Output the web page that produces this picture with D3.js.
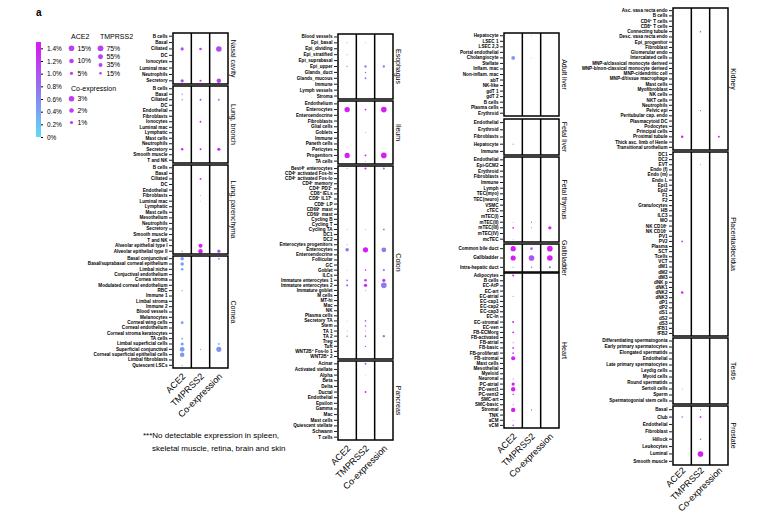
<!DOCTYPE html>
<html>
<head>
<meta charset="utf-8">
<script src="https://cdn.jsdelivr.net/npm/d3@7"></script>
<style>
  body { margin: 0; background: #fff; }
  text { font-family: "Liberation Sans", Arial, sans-serif; }
</style>
</head>
<body>
<svg id="chart" width="774" height="513"></svg>
<script>
// genes shown as the three sub-columns of every panel
const genes = ["ACE2", "TMPRSS2", "Co-expression"];
const levelTicks = [0, 0.2, 0.4, 0.6, 0.8, 1.0, 1.2, 1.4];
const ace2Legend = [15, 10, 5];
const tmprss2Legend = [75, 55, 35, 15];
const coLegend = [3, 2, 1];

// cell types per tissue; dots are [cell, gene index, % cells, mean level %]
const nasalCells = ["B cells", "Basal", "Ciliated", "DC", "Ionocytes", "Luminal mac", "Neutrophils", "Secretory"];
const nasalDots = [["Ciliated", 0, 5, 1.1], ["Ciliated", 1, 15, 1.1], ["Ciliated", 2, 3, 1.1],
  ["Secretory", 0, 5, 1.1], ["Secretory", 1, 10, 1.25], ["Secretory", 2, 2, 1.1]];

const bronchCells = ["B cells", "Basal", "Ciliated", "DC", "Endothelial", "Fibroblasts", "Ionocytes", "Luminal mac",
  "Lymphatic", "Mast cells", "Neutrophils", "Secretory", "Smooth muscle", "T and NK"];
const bronchDots = [["Basal", 0, 1, 0.4], ["Ciliated", 0, 1, 0.5], ["Ciliated", 1, 8, 1.1], ["Ciliated", 2, 0.3, 0.8],
  ["Ionocytes", 1, 8, 1.35], ["Secretory", 0, 3, 1.3], ["Secretory", 1, 8, 1.35], ["Secretory", 2, 1, 1.3]];

const parenchymaCells = ["B cells", "Basal", "Ciliated", "DC", "Endothelial", "Fibroblasts", "Luminal mac", "Lymphatic",
  "Mast cells", "Mesothelium", "Neutrophils", "Secretory", "Smooth muscle", "T and NK",
  "Alveolar epithelial type I", "Alveolar epithelial type II"];
const parenchymaDots = [["Ciliated", 1, 8, 1.35], ["Fibroblasts", 1, 2, 0.6], ["Luminal mac", 1, 1.5, 0.6],
  ["Alveolar epithelial type I", 1, 35, 1.4], ["Alveolar epithelial type II", 0, 1, 0.5],
  ["Alveolar epithelial type II", 1, 45, 1.45], ["Alveolar epithelial type II", 2, 1, 1.0]];

const corneaCells = ["Basal conjunctival", "Basal/suprabasal corneal epithelium", "Limbal niche", "Conjuctival endothelium",
  "Cornea stroma", "Modulated corneal endothelium", "RBC", "Immune 1", "Limbal stroma", "Immune 2", "Blood vessels",
  "Melanocytes", "Corneal wing cells", "Corneal endothelium", "Corneal stroma keratocytes", "TA cells",
  "Limbal superficial cells", "Superficial conjunctival", "Corneal superficial epithelial cells",
  "Limbal fibroblasts", "Quiescent LSCs"];
const corneaDots = [["Basal conjunctival", 0, 6, 0.45], ["Basal conjunctival", 2, 0.4, 0.4],
  ["Basal/suprabasal corneal epithelium", 0, 6, 0.45], ["Limbal niche", 0, 3, 0.45], ["RBC", 0, 0.8, 0.4],
  ["Corneal wing cells", 0, 4, 0.45], ["TA cells", 0, 1.5, 0.4], ["Limbal superficial cells", 0, 5, 0.45],
  ["Limbal superficial cells", 2, 0.3, 0.4], ["Superficial conjunctival", 0, 11, 0.5],
  ["Superficial conjunctival", 1, 4, 0.5], ["Superficial conjunctival", 2, 2.5, 0.55],
  ["Corneal superficial epithelial cells", 0, 10, 0.5], ["Quiescent LSCs", 0, 0.8, 0.4]];

const esophagusCells = ["Blood vessels", "Epi_basal", "Epi_dividing", "Epi_stratified", "Epi_suprabasal", "Epi_upper",
  "Glands_duct", "Glands_mucous", "Immune", "Lymph vessels", "Stroma"];
const esophagusDots = [["Epi_basal", 0, 0.5, 0.5], ["Epi_basal", 1, 2, 0.6], ["Epi_stratified", 0, 0.5, 0.5],
  ["Epi_upper", 0, 0.8, 0.6], ["Epi_upper", 1, 12, 0.85], ["Epi_upper", 2, 0.5, 0.8],
  ["Glands_duct", 1, 5, 0.8], ["Glands_mucous", 1, 8, 0.8]];

const ileumCells = ["Endothelium", "Enterocytes", "Enteroendocrine", "Fibroblasts", "Glial cells", "Goblets", "Immune",
  "Paneth cells", "Pericytes", "Progenitors", "TA cells"];
const ileumDots = [["Enterocytes", 0, 14, 1.4], ["Enterocytes", 1, 8, 1.3], ["Enterocytes", 2, 3, 1.4],
  ["Goblets", 1, 2, 0.9], ["Progenitors", 0, 13, 1.4], ["Progenitors", 1, 8, 1.3], ["Progenitors", 2, 3, 1.4],
  ["TA cells", 1, 2, 0.9]];

const colonCells = ["Best4\u207A enterocytes", "CD4\u207A activated Fos-hi", "CD4\u207A activated Fos-lo", "CD4\u207A memory",
  "CD4\u207A PD1\u207A", "CD8\u207A IELs", "CD8\u207A IL17\u207A", "CD8\u207A LP", "CD69\u207A mast", "CD69\u207B mast",
  "Cycling B", "Cycling T", "Cycling TA", "DC1", "DC2", "Enterocytes progenitors", "Enterocytes", "Enteroendocrine",
  "Follicular", "GC", "Goblet", "ILCs", "Immature enterocytes 1", "Immature enterocytes 2", "Immature goblet",
  "M cells", "MT-hi", "Mac", "NK", "Plasma cells", "Secretory TA", "Stem", "TA 1", "TA 2", "Treg", "Tuft",
  "WNT2B\u207A Fos-lo 1", "WNT2B\u207A 2"];
const colonDots = [["Best4\u207A enterocytes", 0, 0.5, 0.6], ["Best4\u207A enterocytes", 1, 10, 1.2],
  ["Best4\u207A enterocytes", 2, 0.4, 0.9], ["Cycling TA", 0, 0.4, 0.6], ["Cycling TA", 1, 2, 0.7],
  ["Cycling TA", 2, 0.3, 0.7], ["Enterocytes progenitors", 0, 0.5, 0.6], ["Enterocytes", 0, 6, 0.75],
  ["Enterocytes", 1, 60, 1.4], ["Enterocytes", 2, 2.2, 0.75], ["Goblet", 0, 0.4, 0.6], ["Goblet", 1, 6, 1.3],
  ["Goblet", 2, 0.5, 0.6], ["Immature enterocytes 1", 0, 1.5, 1.0], ["Immature enterocytes 1", 1, 15, 1.3],
  ["Immature enterocytes 1", 2, 1, 1.2], ["Immature enterocytes 2", 0, 2, 0.9], ["Immature enterocytes 2", 1, 25, 1.3],
  ["Immature enterocytes 2", 2, 3, 0.75], ["Immature goblet", 1, 2, 1.0], ["Secretory TA", 0, 0.4, 0.6],
  ["Secretory TA", 1, 6, 1.0], ["Stem", 1, 6, 1.0], ["TA 1", 0, 0.4, 0.6], ["TA 1", 1, 2, 0.8],
  ["TA 2", 0, 1, 0.9], ["TA 2", 1, 6, 1.0], ["TA 2", 2, 0.5, 0.9], ["Tuft", 1, 4, 1.3]];

const pancreasCells = ["Acinar", "Activated stellate", "Alpha", "Beta", "Delta", "Ductal", "Endothelial", "Epsilon",
  "Gamma", "Mac", "Mast cells", "Quiescent stellate", "Schwann", "T cells"];
const pancreasDots = [["Acinar", 1, 8, 1.0], ["Alpha", 1, 1, 0.8], ["Ductal", 1, 8, 1.35]];

const adultLiverCells = ["Hepatocyte", "LSEC 1", "LSEC 2,3", "Portal endothelial", "Cholangiocyte", "Stellate",
  "Inflam. mac", "Non-inflam. mac", "abT", "NK-like", "gdT 1", "gdT 2", "B cells", "Plasma cells", "Erythroid"];
const adultLiverDots = [["Hepatocyte", 1, 1.5, 0.5], ["Cholangiocyte", 0, 7, 0.5], ["Cholangiocyte", 1, 1.5, 0.5]];

const fetalLiverCells = ["Endothelial", "Erythroid", "Fibroblasts", "Hepatocyte", "Immune"];
const fetalLiverDots = [["Hepatocyte", 0, 0.8, 0.45]];

const thymusCells = ["Endothelial", "Epi-GCM2", "Erythroid", "Fibroblasts", "Immune", "Lymph", "TEC(myo)", "TEC(neuro)",
  "VSMC", "cTEC", "mTEC(I)", "mTEC(II)", "mTEC(III)", "mTEC(IV)", "mcTEC"];
const thymusDots = [["mTEC(II)", 0, 0.4, 1.2], ["mTEC(II)", 1, 3, 1.3], ["mTEC(III)", 0, 1.5, 1.35],
  ["mTEC(III)", 1, 2, 1.2], ["mTEC(III)", 2, 1, 1.35], ["mcTEC", 0, 0.3, 1.0]];

const gallbladderCells = ["Common bile duct", "Gallbladder", "Intra-hepatic duct"];
const gallbladderDots = [["Common bile duct", 0, 13, 1.4], ["Common bile duct", 1, 15, 0.85], ["Common bile duct", 2, 3, 1.4],
  ["Gallbladder", 0, 13, 1.4], ["Gallbladder", 1, 70, 1.0], ["Gallbladder", 2, 3, 1.4],
  ["Intra-hepatic duct", 0, 0.5, 1.0], ["Intra-hepatic duct", 1, 5, 0.85], ["Intra-hepatic duct", 2, 0.4, 0.9]];

const heartCells = ["Adipocytes", "B cells", "EC-AtP", "EC-art", "EC-atrial", "EC-cap1", "EC-cap2", "EC-cap3", "EC-ln",
  "EC-stromal", "EC-ven", "FB-ECMorg", "FB-activated", "FB-atrial", "FB-basic", "FB-proliferati", "FB-stromal",
  "Mast cells", "Mesothelial", "Myeloid", "Neuronal", "PC-atrial", "PC-vent1", "PC-vent2", "SMC-art", "SMC-basic",
  "Stromal", "TNK", "aCM", "vCM"];
const heartDots = [["Adipocytes", 0, 2, 1.3], ["EC-atrial", 0, 0.5, 1.0], ["EC-stromal", 0, 2, 1.3],
  ["FB-ECMorg", 0, 1.5, 1.35], ["FB-atrial", 0, 0.6, 1.0], ["FB-basic", 0, 1.5, 1.2], ["FB-proliferati", 0, 1.5, 1.2],
  ["FB-stromal", 0, 8, 1.45], ["Neuronal", 0, 0.5, 1.0], ["PC-atrial", 0, 5, 1.45], ["PC-vent1", 0, 9, 1.45],
  ["PC-vent2", 0, 1.2, 1.1], ["SMC-basic", 0, 0.6, 1.0], ["Stromal", 0, 9, 1.45], ["Stromal", 1, 3, 1.2],
  ["aCM", 0, 0.4, 1.0], ["vCM", 0, 1.2, 1.2]];

const kidneyCells = ["Asc. vasa recta endo", "B cells", "CD4\u207A T cells", "CD8\u207A T cells", "Connecting tubule",
  "Desc. vasa recta endo", "Epi_progenitor", "Fibroblast", "Glomerular endo", "Intercalated cells",
  "MNP-a/classical monocyte derived", "MNP-b/non-classical monocyte derived", "MNP-c/dendritic cell",
  "MNP-d/tissue macrophage", "Mast cells", "Myofibroblast", "NK cells", "NKT cells", "Neutrophils", "Pelvic epi",
  "Peritubular cap. endo", "Plasmacytoid DC", "Podocytes", "Principal cells", "Proximal tubule",
  "Thick asc. limb of Henle", "Transitional urothelium"];
const kidneyDots = [["Connecting tubule", 1, 5, 1.1], ["Pelvic epi", 1, 3, 1.2], ["Proximal tubule", 0, 3, 1.35],
  ["Proximal tubule", 2, 0.4, 1.2]];

const placentaCells = ["DC1", "DC2", "EVT", "Endo (f)", "Endo (m)", "Endo L", "Epi1", "Epi2", "F1", "F2", "Granulocytes",
  "HB", "ILC3", "MO", "NK CD16\u207A", "NK CD16\u207B", "PV1", "PV2", "Plasma", "SCT", "Tcells", "VCT", "dM1", "dM2",
  "dM3", "dNK p", "dNK1", "dNK2", "dNK3", "dP1", "dP2", "dS1", "dS2", "dS3", "fFB1", "fFB2"];
const placentaDots = [["EVT", 1, 2, 1.1], ["PV2", 0, 1.5, 1.2], ["dNK2", 0, 3, 1.35]];

const testisCells = ["Differentiating spermatogonia", "Early primary spermatocytes", "Elongated spermatids",
  "Endothelial", "Late primary spermatocytes", "Leydig cells", "Myoid cells", "Round spermatids", "Sertoli cells",
  "Sperm", "Spermatogonial stem cells"];
const testisDots = [["Sertoli cells", 0, 0.4, 1.0]];

const prostateCells = ["Basal", "Club", "Endothelial", "Fibroblast", "Hillock", "Leukocytes", "Luminal", "Smooth muscle"];
const prostateDots = [["Basal", 1, 3, 1.0], ["Club", 0, 1, 1.2], ["Club", 1, 8, 1.2], ["Hillock", 1, 5, 1.2],
  ["Luminal", 1, 70, 1.4]];

// layout: four columns of stacked panels
const PW = 55;
const columns = [
  { x: 173, labelDy: 5, panels: [["Nasal cavity", 33, 84, nasalCells, nasalDots], ["Lung, bronch", 86, 163, bronchCells, bronchDots],
    ["Lung, parenchyma", 165, 254, parenchymaCells, parenchymaDots], ["Cornea", 256, 368, corneaCells, corneaDots]] },
  { x: 338, labelDy: 5, panels: [["Esophagus", 34, 99, esophagusCells, esophagusDots], ["Ileum", 101, 164, ileumCells, ileumDots],
    ["Colon", 166, 359, colonCells, colonDots], ["Pancreas", 361, 440, pancreasCells, pancreasDots]] },
  { x: 504, labelDy: 5, panels: [["Adult liver", 33, 116, adultLiverCells, adultLiverDots], ["Fetal liver", 119, 155, fetalLiverCells, fetalLiverDots],
    ["Fetal  thymus", 157, 242, thymusCells, thymusDots], ["Gallbladder", 244, 272, gallbladderCells, gallbladderDots],
    ["Heart", 273, 428, heartCells, heartDots]] },
  { x: 673, labelDy: 2, panels: [["Kidney", 8, 150, kidneyCells, kidneyDots], ["Placenta/decidua", 152, 336, placentaCells, placentaDots],
    ["Testis", 338, 404, testisCells, testisDots], ["Prostate", 406, 465, prostateCells, prostateDots]] }
];

const svg = d3.select("#chart");

const color = d3.scaleLinear()
  .domain([0, 0.7, 1.4])
  .range(["#5edcf8", "#8c7ef0", "#d51ef2"])
  .clamp(true);

const sizes = [
  d3.scaleSqrt().domain([0, 15]).range([0, 2.8]),
  d3.scaleSqrt().domain([0, 75]).range([0, 2.9]),
  d3.scaleSqrt().domain([0, 3]).range([0, 2.8])
];

const x = d3.scaleBand().domain(genes).range([0, PW]);

columns.forEach(col => {
  const g = svg.append("g").attr("transform", `translate(${col.x},0)`);
  let lastBottom = 0;
  col.panels.forEach(([name, top, bottom, cells, dots]) => {
    lastBottom = bottom;
    const y = d3.scaleBand().domain(cells).range([top, bottom]);

    const axis = g.append("g")
      .attr("transform", "translate(-1,0)")
      .call(d3.axisLeft(y).tickSize(3).tickPadding(1.5));
    axis.select(".domain").remove();
    axis.selectAll("line").attr("stroke", "#000").attr("stroke-width", 0.9);
    axis.selectAll("text")
      .attr("fill", "#000")
      .style("font-size", "4.6px")
      .style("font-weight", "bold")
      .style("font-family", "'Liberation Sans', Arial, sans-serif");

    g.append("g").selectAll("circle")
      .data(dots)
      .enter().append("circle")
      .attr("cx", d => x(genes[d[1]]) + x.bandwidth() / 2)
      .attr("cy", d => y(d[0]) + y.bandwidth() / 2)
      .attr("r", d => sizes[d[1]](d[2]))
      .attr("fill", d => color(d[3]));

    g.append("g").selectAll("line")
      .data(genes.slice(1))
      .enter().append("line")
      .attr("x1", d => x(d)).attr("x2", d => x(d))
      .attr("y1", top).attr("y2", bottom)
      .attr("stroke", "#000")
      .attr("stroke-width", 1.5);

    g.append("rect")
      .attr("x", 0).attr("y", top)
      .attr("width", PW).attr("height", bottom - top)
      .attr("fill", "none")
      .attr("stroke", "#000")
      .attr("stroke-width", 1.5);

    g.append("text")
      .attr("transform", `translate(${PW + 2.5},${(top + bottom) / 2}) rotate(90)`)
      .attr("text-anchor", "middle")
      .style("font-size", "7px")
      .text(name);
  });

  const xAxis = g.append("g")
    .attr("transform", `translate(0,${lastBottom + 4})`)
    .call(d3.axisBottom(x).tickSize(0).tickPadding(0));
  xAxis.select(".domain").remove();
  xAxis.selectAll("text")
    .attr("fill", "#000")
    .attr("text-anchor", "end")
    .attr("dy", 0)
    .attr("transform", `translate(4,${col.labelDy}) rotate(-45)`)
    .style("font-size", "9px")
    .style("font-family", "'Liberation Sans', Arial, sans-serif");
});

// panel letter
svg.append("text")
  .attr("x", 36).attr("y", 16)
  .style("font-size", "10px")
  .style("font-weight", "bold")
  .text("a");

// colour bar
const barTop = 42, barBottom = 137;
const level = d3.scaleLinear().domain([0, 1.5]).range([barBottom, barTop]);
const defs = svg.append("defs");
const grad = defs.append("linearGradient")
  .attr("id", "bar-grad")
  .attr("x1", 0).attr("y1", 1)
  .attr("x2", 0).attr("y2", 0);
grad.selectAll("stop")
  .data(d3.range(0, 1.51, 0.1))
  .enter().append("stop")
  .attr("offset", d => d / 1.5)
  .attr("stop-color", d => color(d));

svg.append("rect")
  .attr("x", 36).attr("y", barTop)
  .attr("width", 5).attr("height", barBottom - barTop)
  .attr("fill", "url(#bar-grad)");

const barAxis = svg.append("g")
  .attr("transform", "translate(41,0)")
  .call(d3.axisRight(level).tickValues(levelTicks).tickSize(2).tickPadding(4)
    .tickFormat(d => d === 0 ? "0%" : d.toFixed(1) + "%"));
barAxis.select(".domain").remove();
barAxis.selectAll("text")
  .attr("fill", "#000")
  .style("font-size", "6.5px")
  .style("font-family", "'Liberation Sans', Arial, sans-serif");

// size legends
function sizeLegend(title, values, scale, cx, titleY, ys) {
  svg.append("text")
    .attr("x", cx - 0.5).attr("y", titleY)
    .style("font-size", "7px")
    .text(title);
  values.forEach((v, i) => {
    svg.append("circle")
      .attr("cx", cx).attr("cy", ys[i])
      .attr("r", scale(v))
      .attr("fill", color(1.15));
    svg.append("text")
      .attr("x", cx + 6).attr("y", ys[i] + 2.4)
      .style("font-size", "6.8px")
      .text(v + "%");
  });
}
sizeLegend("ACE2", ace2Legend, sizes[0], 71.5, 39, [48.3, 61, 73.3]);
sizeLegend("TMPRSS2", tmprss2Legend, sizes[1], 100.5, 39, [48.3, 56.7, 65, 73.3]);
sizeLegend("Co-expression", coLegend, sizes[2], 71.5, 91, [98.7, 110.5, 122.5]);

// footnote
svg.append("text")
  .attr("x", 143).attr("y", 438)
  .style("font-size", "8px")
  .text("***No detectable expression in spleen,");
svg.append("text")
  .attr("x", 152).attr("y", 451)
  .style("font-size", "8px")
  .text("skeletal muscle, retina, brain and skin");
</script>
</body>
</html>
